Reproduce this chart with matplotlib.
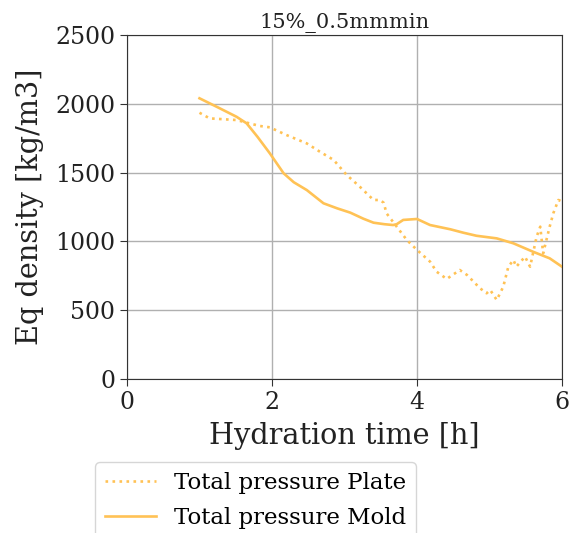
import matplotlib
matplotlib.use("Agg")
import matplotlib.pyplot as plt

# Total pressure Plate (dotted)
plate_t = [1.0, 1.14, 1.51, 1.83, 1.97, 2.20, 2.48, 2.66, 2.85, 3.03, 3.21, 3.40, 3.49, 3.54, 3.58,
           3.72, 3.86, 4.0, 4.18, 4.27, 4.41, 4.59, 4.69, 4.87, 4.96, 5.01, 5.10, 5.19, 5.26, 5.33,
           5.37, 5.49, 5.56, 5.65, 5.70, 5.74, 5.83, 5.88, 5.95, 6.0]
plate_v = [1935, 1894, 1882, 1839, 1829, 1773, 1712, 1652, 1592, 1483, 1398, 1301, 1301, 1281, 1204,
           1107, 1010, 938, 853, 780, 727, 792, 756, 659, 623, 647, 574, 671, 816, 865,
           816, 889, 816, 1034, 1107, 913, 1107, 1204, 1301, 1290]

# Total pressure Mold (solid)
mold_t = [1.0, 1.25, 1.51, 1.65, 1.80, 1.97, 2.16, 2.30, 2.48, 2.71, 2.90, 3.08, 3.26, 3.40, 3.55,
          3.67, 3.72, 3.81, 4.0, 4.18, 4.46, 4.64, 4.82, 5.10, 5.33, 5.60, 5.83, 6.0]
mold_v = [2040, 1975, 1906, 1858, 1760, 1640, 1495, 1430, 1373, 1277, 1240, 1209, 1165, 1136, 1125,
          1119, 1125, 1156, 1163, 1119, 1088, 1063, 1041, 1022, 986, 925, 877, 816]

title = "15%_0.5mmmin"
xlabel = "Hydration time [h]"
ylabel = "Eq density [kg/m3]"
labels = ["Total pressure Plate", "Total pressure Mold"]

color = "#ffc255"

fig = plt.figure(figsize=(5.69, 5.33), dpi=100)
ax = fig.add_axes([127/569, 1-379/533, 435/569, 344/533])
ax.plot(plate_t, plate_v, linestyle=":", color=color, lw=1.9, label=labels[0])
ax.plot(mold_t, mold_v, linestyle="-", color=color, lw=1.9, label=labels[1])
ax.set_xlim(0, 6)
ax.set_ylim(0, 2500)
ax.set_xticks([0, 2, 4, 6])
ax.set_yticks([0, 500, 1000, 1500, 2000, 2500])
ax.grid(True, color="#b0b0b0", lw=1.0)
for s in ax.spines.values():
    s.set_color("#333333")
serif = "DejaVu Serif"
for lab in ax.get_xticklabels() + ax.get_yticklabels():
    lab.set_fontfamily(serif)
    lab.set_fontsize(17)
ax.tick_params(colors="#333333", labelcolor="#222222", length=5)
ax.set_xlabel(xlabel, fontsize=20.7, family=serif, color="#222222", labelpad=6)
ax.set_ylabel(ylabel, fontsize=20.7, family=serif, color="#222222", labelpad=8)
ax.set_title(title, fontsize=15, family=serif, pad=5, color="#222222")

fig.legend(loc="upper left", bbox_to_anchor=(95/569, 1-462/533), prop={"family": serif, "size": 16.5},
           frameon=True, fancybox=True, edgecolor="#cccccc", borderaxespad=0, handlelength=2.2,
           borderpad=0.44, labelspacing=0.56)

fig.savefig("out.png", dpi=100)
